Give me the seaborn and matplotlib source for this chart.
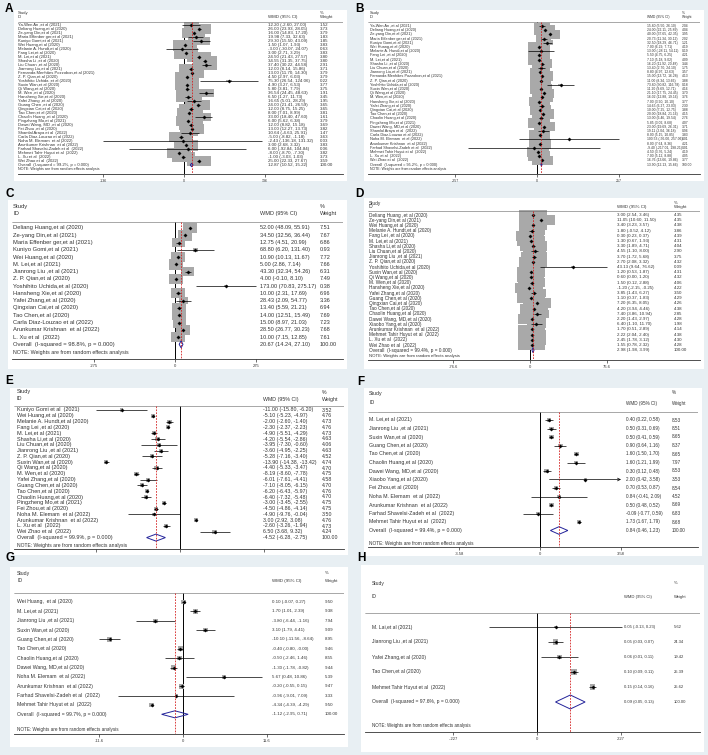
import numpy as np
import matplotlib.pyplot as plt
import seaborn as sns
from matplotlib.patches import Rectangle, Polygon

sns.set_theme(style="white")
plt.rcParams['font.family'] = ['Liberation Sans', 'DejaVu Sans']

W, H = 708, 755

# ---------------- data ----------------
A_STUDY = ["Ya-Wen An ,et al (2021)", "Deliang Huang,et al (2020)", "Ze-yang Din,et al (2021)",
           "Maria Effenber ger,et al (2021)", "Kuniyo Gomi,et al (2021)", "Wei Huang,et al (2020)",
           "Melanie A. Hundt,et al (2020)", "Fang Lei,et al (2020)", "M. Lei,et al (2021)",
           "Shasha Li ,et al (2020)", "Liu Chuan ,et al (2020)", "Jianrong Liu,et al (2021)",
           "Fernanda Menhães Pozzobon,et al (2021)", "Z. P. Qian,et al (2020)",
           "Yoshihito Uchida ,et al (2020)", "Suxin Wan,et al (2020)", "Qi Wang,et al (2020)",
           "M. Wen ,et al (2020)", "Hansheng Xie,et al (2020)", "Yafei Zhang ,et al (2020)",
           "Guang Chen ,et al (2020)", "Qingxian Cai,et al (2020)", "Tao Chen,et al (2020)",
           "Chaolin Huang ,et al (2020)", "Pingzheng Mo,et al (2021)", "Dawei Wang, MD ,et al (2020)",
           "Fei Zhou ,et al (2020)", "Shamlal Araya et al  (2022)", "Carla Diaz-Louzao et al (2022)",
           "Noha M. Elemam  et al (2022)", "Arunkumar Krishnan  et al (2022)",
           "Farhad Shavelsi-Zadeh et al  (2022)", "Mehmet Tahir Huyut et al  (2022)",
           "L. Xu et al  (2022)", "Wei Zhao et al  (2022)"]
A_EST = [12.20, 26.00, 16.00, 19.98, 29.30, 1.50, -3.00, 3.00, 24.50, 34.55, 37.40, 12.00, 13.00,
         4.50, 75.30, 4.90, 5.80, 36.54, 6.50, 16.65, 24.00, 12.00, 8.00, 33.00, 6.00, 12.00, 13.00,
         10.64, -5.00, -2.43, 3.00, 6.00, -8.00, -1.00, 25.00]
A_LO = [-2.60, 23.93, 14.83, 7.33, 15.50, 1.07, -30.07, 2.71, 21.43, 31.35, 30.22, 8.14, 11.70,
        2.97, 26.54, 3.27, 3.81, 24.45, 1.27, 5.01, 21.41, 8.75, 7.01, 18.40, 5.62, 8.82, 12.27,
        -4.63, -8.82, -136.18, 2.68, -92.84, -8.70, -3.03, 22.33]
A_HI = [27.00, 28.05, 17.20, 32.63, 43.09, 1.93, 24.07, 3.29, 27.57, 37.75, 44.58, 15.86, 14.30,
        6.03, 124.06, 6.53, 7.79, 48.63, 11.73, 28.29, 26.59, 15.25, 8.99, 47.60, 6.38, 15.18, 13.73,
        25.91, -1.18, 131.32, 3.32, 104.84, -7.30, 1.03, 27.67]
A_WT = [1.52, 3.73, 3.79, 1.83, 1.85, 3.83, 0.63, 3.83, 3.80, 3.80, 2.91, 3.71, 3.79, 3.79, 0.22,
        3.77, 3.75, 1.91, 3.45, 1.95, 3.65, 3.65, 3.81, 1.61, 3.79, 3.69, 3.82, 1.47, 3.63, 0.03,
        3.83, 0.06, 3.82, 3.73, 3.59]
A_OVERALL = [12.87, 10.52, 15.22]
A_I2 = "99.2%"
A_TICKS = ["-136", "0", "136"]
A_TICKVAL = 136

B_STUDY = ["Ya-Wen An ,et al (2021)", "Deliang Huang,et al (2020)", "Ze-yang Din,et al (2021)",
           "Maria Effenber ger,et al (2021)", "Kuniyo Gomi,et al (2021)", "Wei Huang,et al (2020)",
           "Melanie A. Hundt,et al (2020)", "Fang Lei ,et al (2020)", "M. Lei,et al (2021)",
           "Shasha Li ,et al (2020)", "Liu Chuan,et al (2020)", "Jianrong Liu,et al (2021)",
           "Fernanda Menhães Pozzobon,et al (2021)", "Z. P. Qian,et al (2020)",
           "Yoshihito Uchida,et al (2020)", "Suxin Wan,et al (2020)", "Qi Wang,et al (2020)",
           "M. Wen,et al (2020)", "Hansheng Xie,et al (2020)", "Yafei Zhang,et al (2020)",
           "Qingxian Cai,et al (2020)", "Tao Chen,et al (2020)", "Chaolin Huang,et al (2020)",
           "Pingzheng Mo,et al (2021)", "Dawei Wang, MD,et al (2020)", "Shamlal Araya et al  (2022)",
           "Carla Diaz-Louzao et al (2022)", "Noha M. Elemam  et al (2022)",
           "Arunkumar Krishnan  et al (2022)", "Farhad Shavelsi-Zadeh et al  (2022)",
           "Mehmet Tahir Huyut et al  (2022)", "L. Xu et al  (2022)", "Wei Zhao et al  (2022)"]
B_EST = [15.80, 24.00, 40.00, 20.73, 32.50, 7.00, 13.00, 5.50, 7.10, 16.20, 13.40, 8.80, 15.00,
         11.00, 73.80, 11.20, 21.10, 16.02, 7.00, 14.65, 10.00, 20.00, 13.00, 5.85, 23.00, 19.11,
         8.00, 100.53, 8.00, -9.40, 4.50, 7.00, 16.76]
B_LO = [5.50, 22.11, 37.65, 11.34, 18.29, 6.29, -28.11, 4.75, 5.18, 11.92, 2.70, 4.97, 13.72,
        8.34, 30.82, 9.69, 17.75, 12.88, 3.90, 6.27, 7.25, 18.84, 6.46, 3.02, 19.69, 2.04, 5.15,
        -56.00, 7.64, -217.01, 3.76, 5.12, 13.66]
B_HI = [26.10, 25.89, 42.35, 30.12, 46.71, 7.71, 54.11, 6.25, 9.02, 20.48, 24.10, 12.63, 16.28,
        13.66, 116.78, 12.71, 24.45, 19.16, 10.10, 23.03, 12.75, 21.16, 19.54, 8.68, 26.31, 36.18,
        10.85, 257.06, 8.36, 198.21, 5.24, 8.88, 19.86]
B_WT = [2.04, 4.04, 3.95, 2.02, 1.21, 4.19, 0.19, 4.21, 4.09, 3.44, 1.75, 3.57, 4.13, 3.88, 0.18,
        4.16, 3.70, 3.76, 3.77, 2.30, 3.88, 4.15, 2.76, 4.07, 3.71, 0.96, 3.83, 0.01, 4.21, 0.01,
        4.19, 4.05, 3.77]
B_OVERALL = [13.90, 12.13, 15.66]
B_I2 = "95.2%"
B_TICKS = ["-257", "0", "257"]
B_TICKVAL = 257

C_STUDY = ["Deliang Huang,et al (2020)", "Ze-yang Din,et al (2021)", "Maria Effenber ger,et al (2021)",
           "Kuniyo Gomi,et al (2021)", "Wei Huang,et al (2020)", "M. Lei,et al (2021)",
           "Jianrong Liu ,et al (2021)", "Z. P. Qian,et al (2020)", "Yoshihito Uchida,et al (2020)",
           "Hansheng Xie,et al (2020)", "Yafei Zhang,et al (2020)", "Qingxian Cai,et al (2020)",
           "Tao Chen,et al (2020)", "Carla Diaz-Louzao et al (2022)", "Arunkumar Krishnan  et al (2022)",
           "L. Xu et al  (2022)"]
C_EST = [52.00, 34.50, 12.75, 68.80, 10.90, 5.00, 43.30, 4.00, 173.00, 10.00, 28.43, 13.40, 14.00,
         15.00, 28.50, 10.00]
C_LO = [48.09, 32.56, 4.51, 6.20, 10.13, 2.86, 32.34, -0.10, 70.83, 2.31, 2.09, 5.59, 12.51, 8.97,
        26.77, 7.15]
C_HI = [55.91, 36.44, 20.99, 131.40, 11.67, 7.14, 54.26, 8.10, 275.17, 17.69, 54.77, 21.21, 15.49,
        21.03, 30.23, 12.85]
C_WT = [7.51, 7.67, 6.86, 0.93, 7.72, 7.66, 6.31, 7.49, 0.38, 6.96, 3.36, 6.94, 7.69, 7.23, 7.68, 7.61]
C_OVERALL = [20.67, 14.24, 27.10]
C_I2 = "98.8%"
C_TICKS = ["-275", "0", "275"]
C_TICKVAL = 275

D_STUDY = ["Deliang Huang ,et al (2020)", "Ze-yang Din,et al (2021)", "Wei Huang,et al (2020)",
           "Melanie A. Hundt,et al (2020)", "Fang Lei ,et al (2020)", "M. Lei,et al (2021)",
           "Shasha Li,et al (2020)", "Liu Chuan,et al (2020)", "Jianrong Liu ,et al (2021)",
           "Z. P. Qian,et al (2020)", "Yoshihito Uchida,et al (2020)", "Suxin Wan,et al (2020)",
           "Qi Wang,et al (2020)", "M. Wen,et al (2020)", "Hansheng Xie,et al (2020)",
           "Yafei Zhang,et al (2020)", "Guang Chen,et al (2020)", "Qingxian Cai,et al (2020)",
           "Tao Chen,et al (2020)", "Chaolin Huang,et al (2020)", "Dawei Wang, MD,et al (2020)",
           "Xiaobo Yang,et al (2020)", "Arunkumar Krishnan  et al (2022)",
           "Mehmet Tahir Huyut et al  (2022)", "L. Xu et al  (2022)", "Wei Zhao et al  (2022)"]
D_EST = [3.00, 11.05, 3.40, 1.80, 0.30, 1.30, 3.30, 4.55, 3.70, 2.70, 43.13, 1.20, 0.60, 1.50,
         -1.20, 3.85, 1.10, 7.20, 4.20, 7.40, 2.20, 6.40, 1.70, 2.22, 2.45, 1.55]
D_LO = [2.54, 10.60, 3.23, -0.52, 0.23, 0.67, 1.89, 1.10, 1.72, 2.08, 9.64, 0.53, 0.00, 0.12,
        -2.15, 1.43, 0.37, 6.35, 3.94, 3.86, 1.43, 1.10, 0.51, 2.04, 1.78, 0.78]
D_HI = [3.46, 11.50, 3.57, 4.12, 0.37, 1.93, 4.71, 8.00, 5.68, 3.32, 76.62, 1.87, 1.20, 2.88,
        -0.25, 6.27, 1.83, 8.05, 4.46, 10.94, 2.97, 11.70, 2.89, 2.40, 3.12, 2.32]
D_WT = [4.35, 4.35, 4.38, 3.86, 4.39, 4.31, 4.04, 2.90, 3.75, 4.32, 0.09, 4.31, 4.32, 4.06, 4.22,
        3.50, 4.29, 4.26, 4.38, 2.85, 4.28, 1.98, 4.14, 4.38, 4.30, 4.28]
D_OVERALL = [2.98, 1.98, 3.99]
D_I2 = "99.4%"
D_TICKS = ["-76.6", "0", "76.6"]
D_TICKVAL = 76.6

E_STUDY = ["Kuniyo Gomi et al  (2021)", "Wei Huang,et al (2020)", "Melanie A. Hundt,et al (2020)",
           "Fang Lei ,et al (2020)", "M. Lei,et al (2021)", "Shasha Li,et al (2020)",
           "Liu Chuan,et al (2020)", "Jianrong Liu ,et al (2021)", "Z. P. Qian,et al (2020)",
           "Suxin Wan,et al (2020)", "Qi Wang,et al (2020)", "M. Wen,et al (2020)",
           "Yafei Zhang,et al (2020)", "Guang Chen,et al (2020)", "Tao Chen,et al (2020)",
           "Chaolin Huang,et al (2020)", "Pingzheng Mo,et al (2021)", "Fei Zhou,et al (2020)",
           "Noha M. Elemam  et al (2022)", "Arunkumar Krishnan  et al (2022)", "L. Xu et al  (2022)",
           "Wei Zhao et al  (2022)"]
E_EST = [-11.00, -5.10, -2.00, -2.30, -4.90, -4.20, -3.95, -3.60, -5.28, -13.90, -4.40, -8.19,
         -6.01, -7.10, -6.20, -6.40, -3.00, -4.50, -4.90, 3.00, -2.60, 6.50]
E_LO = [-15.80, -5.23, -2.60, -2.37, -5.51, -5.54, -7.30, -4.95, -7.16, -14.38, -5.33, -8.60,
        -7.61, -8.05, -6.43, -7.32, -3.45, -4.86, -9.76, 2.92, -3.26, 3.68]
E_HI = [-6.20, -4.97, -1.40, -2.23, -4.29, -2.86, -0.60, -2.25, -3.40, -13.42, -3.47, -7.78,
        -4.41, -6.15, -5.97, -5.48, -2.55, -4.14, -0.04, 3.08, -1.94, 9.32]
E_WT = [3.52, 4.76, 4.73, 4.76, 4.73, 4.63, 4.06, 4.63, 4.52, 4.74, 4.70, 4.75, 4.58, 4.70, 4.76,
        4.70, 4.75, 4.75, 3.50, 4.76, 4.73, 4.24]
E_OVERALL = [-4.52, -6.28, -2.75]
E_I2 = "99.9%"
E_TICKS = ["", "", ""]
E_TICKVAL = 15.8

F_STUDY = ["M. Lei,et al (2021)", "Jianrong Liu ,et al (2021)", "Suxin Wan,et al (2020)",
           "Guang Chen,et al (2020)", "Tao Chen,et al (2020)", "Chaolin Huang,et al (2020)",
           "Dawei Wang, MD,et al (2020)", "Xiaobo Yang,et al (2020)", "Fei Zhou,et al (2020)",
           "Noha M. Elemam  et al (2022)", "Arunkumar Krishnan  et al (2022)",
           "Farhad Shavelsi-Zadeh et al  (2022)", "Mehmet Tahir Huyut et al  (2022)"]
F_EST = [0.40, 0.50, 0.50, 0.90, 1.60, 1.60, 0.30, 2.00, 0.70, 0.84, 0.50, -0.09, 1.73]
F_LO = [0.22, 0.31, 0.41, 0.64, 1.50, 1.21, 0.12, 0.42, 0.53, -0.41, 0.48, -0.77, 1.67]
F_HI = [0.58, 0.69, 0.59, 1.16, 1.70, 1.99, 0.48, 3.58, 0.87, 2.09, 0.52, 0.59, 1.79]
F_WT = [8.53, 8.51, 8.65, 8.37, 8.65, 7.97, 8.53, 3.53, 8.54, 4.52, 8.69, 6.83, 8.68]
F_OVERALL = [0.84, 0.46, 1.23]
F_I2 = "99.4%"
F_TICKS = ["-3.58", "0", "3.58"]
F_TICKVAL = 3.58
F_ARROWS = [7]

G_STUDY = ["Wei Huang,  et al (2020)", "M. Lei,et al (2021)", "Jianrong Liu ,et al (2021)",
           "Suxin Wan,et al (2020)", "Guang Chen,et al (2020)", "Tao Chen,et al (2020)",
           "Chaolin Huang,et al (2020)", "Dawei Wang, MD,et al (2020)", "Noha M. Elemam  et al (2022)",
           "Arunkumar Krishnan  et al (2022)", "Farhad Shavelsi-Zadeh et al  (2022)",
           "Mehmet Tahir Huyut et al  (2022)"]
G_EST = [0.10, 1.70, -3.80, 3.10, -10.10, -0.40, -0.50, -1.30, 5.67, -0.20, -0.96, -4.34]
G_LO = [-0.07, 1.01, -6.44, 1.79, -11.56, -0.80, -2.46, -1.78, 0.48, -0.55, -9.01, -4.39]
G_HI = [0.27, 2.39, -1.16, 4.41, -8.64, -0.00, 1.46, -0.82, 10.86, 0.15, 7.09, -4.29]
G_WT = [9.50, 9.38, 7.94, 9.09, 8.95, 9.46, 8.55, 9.44, 5.39, 9.47, 3.33, 9.50]
G_OVERALL = [-1.12, -2.95, 0.71]
G_I2 = "99.7%"
G_TICKS = ["-11.6", "0", "11.6"]
G_TICKVAL = 11.6

H_STUDY = ["M. Lai,et al (2021)", "Jianrong Liu ,et al (2021)", "Yafei Zhang,et al (2020)",
           "Tao Chen,et al (2020)", "Mehmet Tahir Huyut et al  (2022)"]
H_EST = [0.05, 0.05, 0.06, 0.10, 0.15]
H_LO = [-0.13, 0.03, 0.01, 0.09, 0.14]
H_HI = [0.23, 0.07, 0.11, 0.11, 0.16]
H_WT = [5.62, 24.34, 19.42, 25.39, 25.62]
H_OVERALL = [0.09, 0.05, 0.13]
H_I2 = "97.6%"
H_TICKS = ["-.227", "0", ".227"]
H_TICKVAL = 0.227

# ---------------- layout (pixels, origin top-left) ----------------
LAYOUT = {
    "A": dict(box=(14, 10, 347, 181), letter=(5, 3), study_y=13, id_y=17, hline=22, name_x=18,
              ci_x=268, wt_x=320, note=169, axis=174, row1=25, sp=4.0, zero=184, tick_px=81,
              bw=24, bh=11, dh=1.8, fs=3.0, fs_col=3.2, fs_tick=2.6),
    "B": dict(box=(364, 10, 704, 181), letter=(355, 3), study_y=13, id_y=17, hline=22, name_x=370,
              ci_x=647, wt_x=682, note=169, axis=174, row1=26, sp=4.2, zero=537, tick_px=82,
              bw=22, bh=10, dh=1.8, fs=2.8, fs_col=2.4, fs_tick=2.6),
    "C": dict(box=(8, 200, 347, 369), letter=(5, 188), study_y=207, id_y=214, hline=222, name_x=13,
              ci_x=260, wt_x=320, note=353, axis=359, row1=228, sp=7.27, zero=175, tick_px=81,
              bw=14, bh=10.5, dh=3.5, fs=4.2, fs_col=4.0, fs_tick=3.0),
    "D": dict(box=(364, 198, 704, 369), letter=(355, 188), study_y=203, id_y=207, hline=211,
              name_x=369, ci_x=617, wt_x=674, note=356, axis=360, row1=215, sp=5.2, zero=530,
              tick_px=77, bw=28, bh=10, dh=2.5, fs=3.4, fs_col=3.2, fs_tick=3.0),
    "E": dict(box=(10, 388, 348, 555), letter=(5, 375), study_y=392, id_y=399, hline=406, name_x=17,
              ci_x=263, wt_x=322, note=546, axis=549, row1=410, sp=5.8, zero=180, tick_px=84,
              bw=4.5, bh=4, dh=3.5, fs=4.0, fs_col=3.8, fs_tick=3.0),
    "F": dict(box=(364, 388, 702, 556), letter=(357, 376), study_y=393, id_y=403, hline=412,
              name_x=369, ci_x=626, wt_x=672, note=543, axis=547, row1=420, sp=8.5, zero=540,
              tick_px=81, bw=4.7, bh=4, dh=3.8, fs=3.8, fs_col=3.3, fs_tick=3.0),
    "G": dict(box=(10, 567, 348, 747), letter=(5, 552), study_y=573, id_y=581, hline=593, name_x=17,
              ci_x=272, wt_x=325, note=729, axis=734, row1=602, sp=9.36, zero=183, tick_px=84,
              bw=5, bh=4.7, dh=3.5, fs=3.7, fs_col=3.2, fs_tick=3.0),
    "H": dict(box=(361, 565, 704, 752), letter=(357, 552), study_y=583, id_y=597, hline=613,
              name_x=372, ci_x=624, wt_x=674, note=725, axis=732, row1=627, sp=15, zero=537,
              tick_px=84, bw=5.7, bh=5.7, dh=7, fs=3.6, fs_col=3.0, fs_tick=3.0),
}

TXT = "#333333"
BOXC = "#a9a9a9"


def forest(fig, key, study, est, lo, hi, wt, overall, i2, ticklabels, tickval, arrows=()):
    L = LAYOUT[key]
    x0, y0, x1, y1 = L["box"]
    fig.add_artist(Rectangle((x0 / W, 1 - y1 / H), (x1 - x0) / W, (y1 - y0) / H,
                             transform=fig.transFigure, facecolor="white", edgecolor="none", zorder=0))
    fig.text(L["letter"][0] / W, 1 - L["letter"][1] / H, key, fontsize=8.5, fontweight="bold",
             ha="left", va="top", color="black")

    ax_l, ax_r = x0 + 4, x1 - 4
    ax = fig.add_axes([ax_l / W, 1 - L["axis"] / H, (ax_r - ax_l) / W, (L["axis"] - y0) / H])
    ax.set_facecolor("none")
    scale = L["tick_px"] / tickval
    px = lambda p: (p - L["zero"]) / scale
    py = lambda p: (p - L["row1"]) / L["sp"]
    ax.set_xlim(px(ax_l), px(ax_r))
    ax.set_ylim(py(L["axis"]), py(y0))

    n = len(study)
    rows = np.arange(n)
    est = np.array(est)
    lo = np.array(lo)
    hi = np.array(hi)
    wt = np.array(wt)
    wmax = wt.max()

    # weight boxes
    for r, e, w in zip(rows, est, wt):
        f = np.sqrt(w / wmax)
        bw = L["bw"] * f / scale
        bh = L["bh"] * f / L["sp"]
        ax.add_patch(Rectangle((e - bw / 2, r - bh / 2), bw, bh, facecolor=BOXC,
                               edgecolor="none", zorder=2))

    # confidence intervals
    for r, a, b in zip(rows, lo, hi):
        if r in arrows:
            ax.annotate("", xy=(b, r), xytext=(a, r),
                        arrowprops=dict(arrowstyle="->", lw=0.5, color="black",
                                        shrinkA=0, shrinkB=0, mutation_scale=5), zorder=3)
        else:
            ax.hlines(r, a, b, color="black", lw=0.5, zorder=3)
    sns.scatterplot(x=est, y=rows, marker="D", s=3, color="black", edgecolor="black",
                    linewidth=0.2, ax=ax, zorder=4, legend=False)

    # overall diamond
    oe, ol, oh = overall
    dh = L["dh"] / L["sp"]
    ax.add_patch(Polygon([(ol, n), (oe, n - dh), (oh, n), (oe, n + dh)], closed=True,
                         facecolor="none", edgecolor="#23239a", lw=0.7, zorder=4))

    # reference lines
    top = py(L["hline"])
    bot = py(L["axis"])
    ax.vlines(0, top, bot, color="black", lw=0.7, zorder=1)
    ax.vlines(oe, top, bot, color="#d42020", lw=0.6, linestyles=(0, (2, 1.5)), zorder=5)
    ax.axhline(top, color="#666666", lw=0.4)

    # header
    fs, fc = L["fs"], L["fs_col"]
    ax.text(px(L["name_x"]), py(L["study_y"]), "Study", fontsize=fs, color=TXT, va="center")
    ax.text(px(L["name_x"]), py(L["id_y"]), "ID", fontsize=fs, color=TXT, va="center")
    ax.text(px(L["ci_x"]), py(L["id_y"]), "WMD (95% CI)", fontsize=fc, color=TXT, va="center")
    ax.text(px(L["wt_x"]), py(L["study_y"]), "%", fontsize=fc, color=TXT, va="center")
    ax.text(px(L["wt_x"]), py(L["id_y"]), "Weight", fontsize=fc, color=TXT, va="center")

    # rows
    for r in rows:
        ax.text(px(L["name_x"]), r, study[r], fontsize=fs, color=TXT, va="center")
        ax.text(px(L["ci_x"]), r, f"{est[r]:.2f} ({lo[r]:.2f}, {hi[r]:.2f})", fontsize=fc,
                color=TXT, va="center")
        ax.text(px(L["wt_x"]), r, f"{wt[r]:.2f}", fontsize=fc, color=TXT, va="center")
    ax.text(px(L["name_x"]), n, f"Overall  (I-squared = {i2}, p = 0.000)", fontsize=fs,
            color=TXT, va="center")
    ax.text(px(L["ci_x"]), n, f"{oe:.2f} ({ol:.2f}, {oh:.2f})", fontsize=fc, color=TXT, va="center")
    ax.text(px(L["wt_x"]), n, "100.00", fontsize=fc, color=TXT, va="center")
    ax.text(px(L["name_x"]), py(L["note"]), "NOTE: Weights are from random effects analysis",
            fontsize=fs * 0.9, color=TXT, va="center")

    # axis
    for s in ["top", "left", "right"]:
        ax.spines[s].set_visible(False)
    ax.spines["bottom"].set_color("#333333")
    ax.spines["bottom"].set_linewidth(0.6)
    ax.set_yticks([])
    ax.set_xticks([-tickval, 0, tickval])
    ax.set_xticklabels(ticklabels)
    ax.tick_params(axis="x", direction="out", length=2.5, width=0.5, pad=1,
                   labelsize=L["fs_tick"], colors="#333333", bottom=True)
    ax.set_xlabel("")
    ax.set_ylabel("")
    return ax


fig = plt.figure(figsize=(W / 100, H / 100), dpi=100)
fig.patch.set_facecolor("#e8eff3")

forest(fig, "A", A_STUDY, A_EST, A_LO, A_HI, A_WT, A_OVERALL, A_I2, A_TICKS, A_TICKVAL)
forest(fig, "B", B_STUDY, B_EST, B_LO, B_HI, B_WT, B_OVERALL, B_I2, B_TICKS, B_TICKVAL)
forest(fig, "C", C_STUDY, C_EST, C_LO, C_HI, C_WT, C_OVERALL, C_I2, C_TICKS, C_TICKVAL)
forest(fig, "D", D_STUDY, D_EST, D_LO, D_HI, D_WT, D_OVERALL, D_I2, D_TICKS, D_TICKVAL)
forest(fig, "E", E_STUDY, E_EST, E_LO, E_HI, E_WT, E_OVERALL, E_I2, E_TICKS, E_TICKVAL)
forest(fig, "F", F_STUDY, F_EST, F_LO, F_HI, F_WT, F_OVERALL, F_I2, F_TICKS, F_TICKVAL, F_ARROWS)
forest(fig, "G", G_STUDY, G_EST, G_LO, G_HI, G_WT, G_OVERALL, G_I2, G_TICKS, G_TICKVAL)
forest(fig, "H", H_STUDY, H_EST, H_LO, H_HI, H_WT, H_OVERALL, H_I2, H_TICKS, H_TICKVAL)

fig.savefig("out.png", dpi=100, facecolor=fig.get_facecolor())
